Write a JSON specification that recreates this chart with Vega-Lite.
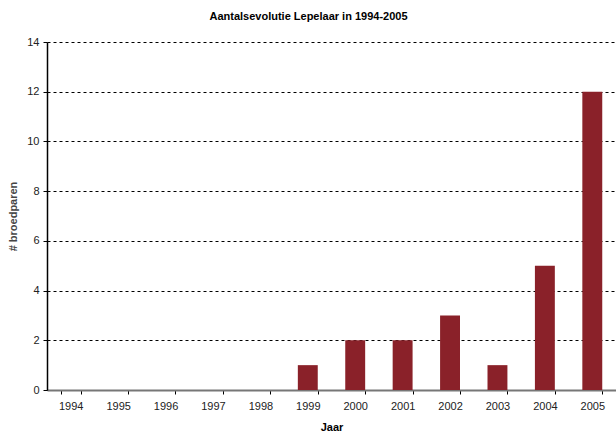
{
  "$schema": "https://vega.github.io/schema/vega-lite/v6.json",
  "autosize": {"type": "none"},
  "width": 569,
  "height": 348,
  "padding": {"left": 47, "top": 42, "right": 0, "bottom": 42},
  "background": "white",
  "title": {
    "text": "Aantalsevolutie Lepelaar in 1994-2005",
    "fontSize": 11,
    "fontWeight": "bold",
    "font": "Liberation Sans",
    "color": "#000000",
    "offset": 14,
    "dx": -23
  },
  "data": {
    "values": [
      {"Jaar": "1994", "n": 0},
      {"Jaar": "1995", "n": 0},
      {"Jaar": "1996", "n": 0},
      {"Jaar": "1997", "n": 0},
      {"Jaar": "1998", "n": 0},
      {"Jaar": "1999", "n": 1},
      {"Jaar": "2000", "n": 2},
      {"Jaar": "2001", "n": 2},
      {"Jaar": "2002", "n": 3},
      {"Jaar": "2003", "n": 1},
      {"Jaar": "2004", "n": 5},
      {"Jaar": "2005", "n": 12}
    ]
  },
  "mark": {"type": "bar", "color": "#8a2129"},
  "encoding": {
    "x": {
      "field": "Jaar",
      "type": "nominal",
      "sort": null,
      "scale": {"paddingInner": 0.58, "paddingOuter": 0.29},
      "axis": {
        "title": "Jaar",
        "titleFont": "Liberation Sans",
        "titleFontSize": 11,
        "titleFontWeight": "bold",
        "titleColor": "#000000",
        "titlePadding": 10,
        "labelAngle": 0,
        "labelFont": "Liberation Sans",
        "labelFontSize": 11,
        "labelColor": "#222222",
        "labelPadding": 6,
        "tickBand": "extent",
        "tickColor": "#000000",
        "tickSize": 4,
        "domainColor": "#777777",
        "domainWidth": 2,
        "grid": false
      }
    },
    "y": {
      "field": "n",
      "type": "quantitative",
      "scale": {"domain": [0, 14], "nice": false},
      "axis": {
        "title": "# broedparen",
        "titleFont": "Liberation Sans",
        "titleFontSize": 11,
        "titleFontWeight": "bold",
        "titleColor": "#444444",
        "titlePadding": 8,
        "values": [0, 2, 4, 6, 8, 10, 12, 14],
        "labelFont": "Liberation Sans",
        "labelFontSize": 11,
        "labelColor": "#222222",
        "labelPadding": 4,
        "tickColor": "#000000",
        "tickSize": 4,
        "domainColor": "#000000",
        "domainWidth": 1.5,
        "grid": true,
        "gridColor": "#000000",
        "gridDash": [3, 3],
        "gridWidth": 1
      }
    }
  },
  "config": {"view": {"stroke": null}}
}
